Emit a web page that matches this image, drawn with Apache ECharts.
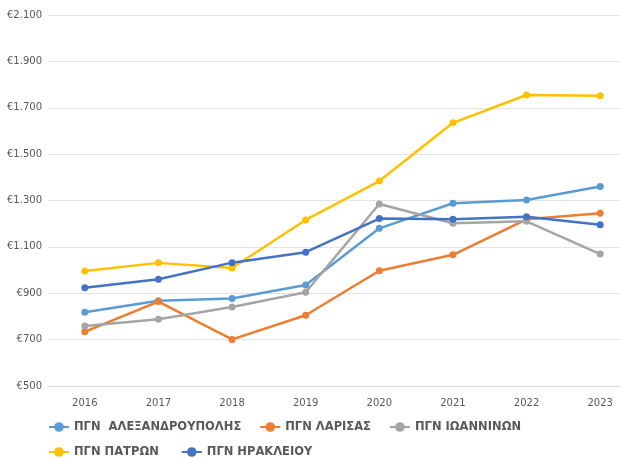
<!DOCTYPE html>
<html><head><meta charset="utf-8">
<script src="https://cdn.jsdelivr.net/npm/echarts@6/dist/echarts.min.js"></script>
<style>html,body{margin:0;padding:0;background:#fff;overflow:hidden;width:620px;height:458px}#c{width:640px;height:458px}</style>
</head><body><div id="c"></div>
<script>
const years = ['2016','2017','2018','2019','2020','2021','2022','2023'];
const seriesNames = ['ΠΓΝ  ΑΛΕΞΑΝΔΡΟΥΠΟΛΗΣ','ΠΓΝ ΛΑΡΙΣΑΣ','ΠΓΝ ΙΩΑΝΝΙΝΩΝ','ΠΓΝ ΠΑΤΡΩΝ','ΠΓΝ ΗΡΑΚΛΕΙΟΥ'];
const alexandroupoli = [818, 868, 877, 936, 1180, 1288, 1302, 1360];
const larisa = [734, 864, 701, 805, 997, 1066, 1219, 1245];
const ioannina = [759, 788, 841, 904, 1285, 1202, 1210, 1069];
const patra = [996, 1031, 1009, 1216, 1384, 1635, 1755, 1752];
const irakleio = [924, 960, 1032, 1077, 1222, 1219, 1230, 1195];
const colors = ['#5B9BD5','#ED7D31','#A5A5A5','#FFC000','#4472C4'];
const allData = [alexandroupoli, larisa, ioannina, patra, irakleio];

const chart = echarts.init(document.getElementById('c'), null, {renderer:'canvas'});
const legendText = {fontFamily:'DejaVu Sans', fontSize:11.5, fontWeight:'bold', color:'#595959'};
chart.setOption({
  animation:false,
  color: colors,
  grid:{left:48, top:15, width:589, height:371, containLabel:false},
  legend:[
    {data:seriesNames.slice(0,3), left:43, top:416, itemWidth:20, itemHeight:12, itemGap:18, textStyle:legendText},
    {data:seriesNames.slice(3), left:43, top:441, itemWidth:20, itemHeight:12, itemGap:22, textStyle:legendText}
  ],
  xAxis:{type:'category', data:years, boundaryGap:true,
    axisLine:{show:true, lineStyle:{color:'#D9D9D9'}}, axisTick:{show:false},
    axisLabel:{color:'#595959', fontFamily:'DejaVu Sans', fontSize:10, margin:12}},
  yAxis:{type:'value', min:500, max:2100, interval:200,
    axisLine:{show:false}, axisTick:{show:false},
    splitLine:{lineStyle:{color:'#E4E4E4', width:1}},
    axisLabel:{color:'#595959', fontFamily:'DejaVu Sans', fontSize:10, margin:6,
      formatter:v=>'€'+(v>=1000? Math.floor(v/1000)+'.'+String(v%1000).padStart(3,'0') : v)}},
  series: seriesNames.map((n,i)=>({
    name:n, type:'line', data:allData[i], symbol:'circle', symbolSize:7,
    lineStyle:{width:2.5, color:colors[i]}, itemStyle:{color:colors[i]}
  }))
});
</script></body></html>
